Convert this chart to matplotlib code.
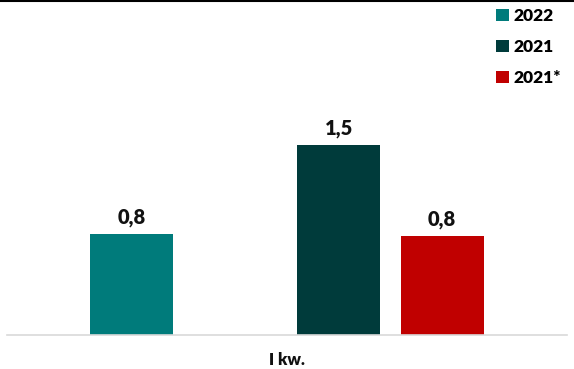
import matplotlib.pyplot as plt
from matplotlib.lines import Line2D

plt.rcParams['font.family'] = ['Lato', 'DejaVu Sans']

category = 'I kw.'
series = ['2022', '2021', '2021*']
values = [0.80, 1.50, 0.78]
colors = ['#007b7b', '#003b3b', '#c00000']
# slot of each series inside the group (slot 1 stays empty)
slots = [0, 2, 3]

fig = plt.figure(figsize=(5.74, 3.69), dpi=100)
ax = fig.add_axes([7 / 574, 34 / 369, 560 / 574, 333 / 369])

slot_w = 103.5 / 560
bar_w = 83 / 560
bars = []
for name, v, c, s in zip(series, values, colors, slots):
    x = (s - 1.5) * slot_w
    b = ax.bar(x, v, width=bar_w, color=c, label=name)
    ax.bar_label(b, labels=[f'{v:.1f}'.replace('.', ',')], padding=5,
                 fontsize=14.5, fontweight='heavy', color='#111111')
    bars.append(b)

ax.set_xlim(-0.5, 0.5)
ax.set_ylim(0, 333 / 126.7)
for side in ['top', 'right', 'left']:
    ax.spines[side].set_visible(False)
ax.spines['bottom'].set_color('#d9d9d9')
ax.spines['bottom'].set_linewidth(1.2)
ax.set_yticks([])
ax.set_xticks([0])
ax.set_xticklabels([category], fontsize=12, fontweight='heavy', color='#111111')
ax.tick_params(axis='x', length=0, pad=12)

fig.legend(handles=[b[0] for b in bars], labels=series, loc='upper left',
           bbox_to_anchor=(493 / 574, 1 - 5 / 369), frameon=False,
           handlelength=0.7, handleheight=0.7, handletextpad=0.3,
           labelspacing=0.85, prop={'size': 12.5, 'weight': 'heavy'},
           borderaxespad=0, borderpad=0.2)

# thin black rule along the top edge
fig.add_artist(Line2D([0, 1], [1 - 1 / 369, 1 - 1 / 369], color='black',
                      linewidth=1.5, transform=fig.transFigure))

fig.savefig('out.png', dpi=100)
